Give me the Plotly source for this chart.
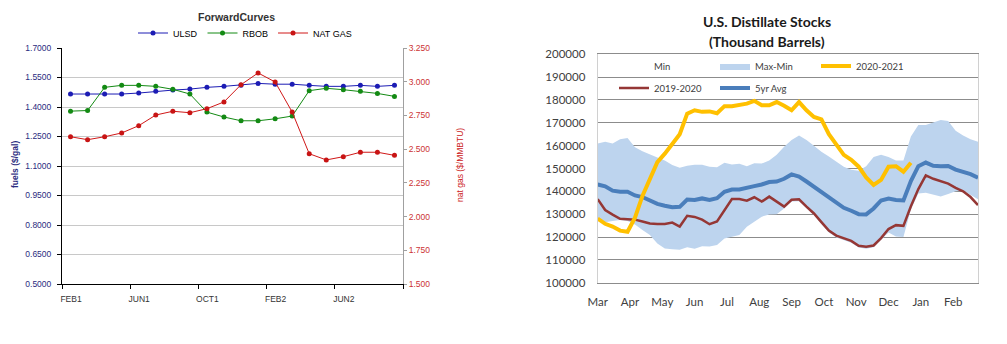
import plotly.graph_objects as go

W, H = 1007, 344

# ---------------- Forward curves (left panel) ----------------
curve_months = ["FEB1", "MAR1", "APR1", "MAY1", "JUN1", "JUL1", "AUG1", "SEP1", "OCT1", "NOV1",
                "DEC1", "JAN2", "FEB2", "MAR2", "APR2", "MAY2", "JUN2", "JUL2", "AUG2", "SEP2"]
ulsd = [1.466, 1.466, 1.466, 1.466, 1.471, 1.480, 1.486, 1.491, 1.500, 1.505,
        1.511, 1.520, 1.516, 1.516, 1.510, 1.505, 1.505, 1.510, 1.505, 1.510]
rbob = [1.379, 1.382, 1.500, 1.510, 1.510, 1.505, 1.490, 1.466, 1.374, 1.349,
        1.330, 1.330, 1.340, 1.354, 1.483, 1.495, 1.488, 1.480, 1.469, 1.454]
nat_gas = [2.592, 2.570, 2.592, 2.620, 2.674, 2.753, 2.781, 2.770, 2.800, 2.850,
           2.978, 3.065, 2.998, 2.775, 2.466, 2.420, 2.444, 2.477, 2.477, 2.454]
curve_tick_months = ["FEB1", "JUN1", "OCT1", "FEB2", "JUN2"]

# ---------------- Distillate stocks (right panel) ----------------
season_months = ["Mar", "Apr", "May", "Jun", "Jul", "Aug", "Sep", "Oct", "Nov", "Dec", "Jan", "Feb"]
stocks_2020_2021 = [128100, 125800, 124600, 122800, 122300, 128500, 138000, 145300, 152800, 156500,
                    160500, 165000, 174000, 175500, 174800, 175000, 174200, 177300, 177300, 178000,
                    178400, 179600, 177700, 177700, 179100, 177500, 175500, 179100, 175500, 172600,
                    171500, 165000, 160500, 156000, 153800, 150800, 146100, 142800, 145000, 150800,
                    151000, 148600, 152500]
stocks_2019_2020 = [136600, 131800, 129800, 128000, 127800, 127600, 126800, 125900, 125700, 125700,
                    126300, 124600, 129300, 128800, 127600, 125600, 126800, 132000, 136600, 136600,
                    135900, 137400, 135500, 137700, 135500, 133300, 136300, 136500, 133300, 130300,
                    126500, 122800, 120600, 119600, 118300, 116200, 115700, 116300, 119500, 123500,
                    125200, 124900, 133500, 141000, 147000, 145500, 144500, 143400, 141500, 140000,
                    137500, 134000]
avg_5yr = [143000, 142200, 140300, 139800, 139800, 138200, 137500, 136200, 134500, 133700,
           133000, 133200, 136400, 136200, 136900, 136200, 137000, 139800, 140800, 140800,
           141700, 142300, 143000, 144100, 144300, 145500, 147400, 146500, 144300, 142000,
           139500, 137000, 134800, 132800, 131500, 130000, 129900, 132500, 136000, 136800,
           136200, 136000, 144500, 151000, 152600, 151200, 151000, 151100, 149500, 148500,
           147500, 146000]
range_min = [127000, 126500, 127000, 127500, 127000, 125500, 123100, 120900, 117200, 115000,
             114700, 114400, 115500, 114900, 116000, 115800, 116500, 119400, 120100, 120900,
             124500, 126700, 128900, 129900, 130000, 132500, 135500, 135700, 132500, 129500,
             125700, 122000, 119800, 118800, 117500, 115400, 114900, 115500, 118700, 122000,
             120200, 120000, 132000, 139100, 139400, 138400, 137700, 138800, 140000, 140400,
             138400, 136500]
range_max = [160900, 161700, 161000, 162800, 163300, 159300, 157500, 156000, 154800, 153500,
             151500, 150300, 151200, 151600, 151600, 150800, 150600, 152500, 151800, 152100,
             151000, 152300, 152200, 153500, 156000, 159500, 162500, 164500, 162500, 160000,
             157300, 155300, 153000, 150800, 149500, 149000, 151000, 155000, 156000, 155000,
             153500, 153500, 164000, 169000, 169000, 170000, 171200, 170800, 166500, 164500,
             162800, 161700]

weeks = list(range(len(range_min)))
weeks_per_month = len(weeks) / 12.0
range_spread = [hi - lo for hi, lo in zip(range_max, range_min)]

LEFT_FONT = "Liberation Sans, Arial, sans-serif"
RIGHT_FONT = "Lato, Open Sans, sans-serif"

fig = go.Figure()

# left panel series
cx = list(range(len(curve_months)))
fig.add_trace(go.Scatter(x=cx, y=ulsd, name="ULSD", mode="lines+markers",
                         line=dict(color="#1c1cb4", width=1), marker=dict(size=5, color="#1c1cb4"),
                         xaxis="x", yaxis="y", legend="legend"))
fig.add_trace(go.Scatter(x=cx, y=rbob, name="RBOB", mode="lines+markers",
                         line=dict(color="#138a13", width=1), marker=dict(size=5, color="#138a13"),
                         xaxis="x", yaxis="y", legend="legend"))
fig.add_trace(go.Scatter(x=cx, y=nat_gas, name="NAT GAS", mode="lines+markers",
                         line=dict(color="#d01818", width=1), marker=dict(size=5, color="#c81414"),
                         xaxis="x", yaxis="y3", legend="legend"))

# right panel: stacked min / max-min band
fig.add_trace(go.Scatter(x=weeks, y=range_min, name="Min", mode="lines", stackgroup="band",
                         line=dict(width=0, color="rgba(0,0,0,0)"), fillcolor="rgba(0,0,0,0)",
                         xaxis="x2", yaxis="y2", legend="legend2"))
fig.add_trace(go.Scatter(x=weeks, y=range_spread, name="Max-Min", mode="lines", stackgroup="band",
                         line=dict(width=0, color="#bdd4ee"), fillcolor="#bdd4ee",
                         xaxis="x2", yaxis="y2", legend="legend2"))
fig.add_trace(go.Scatter(x=weeks[:len(stocks_2019_2020)], y=stocks_2019_2020, name="2019-2020",
                         mode="lines", line=dict(color="#953735", width=2.5),
                         xaxis="x2", yaxis="y2", legend="legend3"))
fig.add_trace(go.Scatter(x=weeks, y=avg_5yr, name="5yr Avg", mode="lines",
                         line=dict(color="#4a7ebb", width=4),
                         xaxis="x2", yaxis="y2", legend="legend3"))
fig.add_trace(go.Scatter(x=weeks[:len(stocks_2020_2021)], y=stocks_2020_2021, name="2020-2021",
                         mode="lines", line=dict(color="#ffc000", width=4),
                         xaxis="x2", yaxis="y2", legend="legend2"))

curve_tick_pos = [curve_months.index(m) - 0.5 for m in curve_tick_months] + [len(curve_months) - 0.5]


def note(text, x, y, size, color, family, angle=0):
    return dict(text=text, x=x / W, y=1 - y / H, xref="paper", yref="paper",
                xanchor="center", yanchor="middle", textangle=angle, showarrow=False,
                font=dict(family=family, size=size, color=color))


fig.update_layout(
    width=W, height=H, autosize=False,
    margin=dict(l=0, r=0, t=0, b=0, pad=0, autoexpand=False),
    paper_bgcolor="white", plot_bgcolor="white",
    xaxis=dict(domain=[62 / W, 403 / W], anchor="y", range=[-0.5, len(curve_months) - 0.5],
               tickmode="array", tickvals=curve_tick_pos, ticktext=curve_tick_months + [""],
               ticklabelshift=9, ticklabelstandoff=3, automargin=False,
               ticks="outside", ticklen=4, tickcolor="black",
               showline=True, linecolor="black", linewidth=1, showgrid=False, zeroline=False,
               tickfont=dict(family=LEFT_FONT, size=8.5, color="#333333")),
    yaxis=dict(domain=[1 - 284 / H, 1 - 48 / H], anchor="x", range=[0.5, 1.7], automargin=False,
               tick0=0.5, dtick=0.15, tickformat=".4f", ticks="outside", ticklen=4, tickcolor="black",
               ticklabelstandoff=4,
               showline=True, linecolor="black", linewidth=1, gridcolor="#c8c8c8", zeroline=False,
               tickfont=dict(family=LEFT_FONT, size=8.5, color="#2b2b80")),
    yaxis3=dict(overlaying="y", side="right", anchor="x", range=[1.5, 3.25], automargin=False,
                tick0=1.5, dtick=0.25, tickformat=".3f", showgrid=False, zeroline=False,
                showline=True, linecolor="#a0a0a0", ticks="outside", ticklen=3, tickcolor="#a0a0a0",
                tickfont=dict(family=LEFT_FONT, size=8.5, color="#cc3333")),
    xaxis2=dict(domain=[597.7 / W, 978 / W], anchor="y2", range=[0, len(weeks) - 1], automargin=False,
                tickmode="array", tickvals=[i * weeks_per_month for i in range(12)],
                ticktext=season_months, ticks="", showgrid=False, zeroline=False,
                showline=True, linecolor="#8c8c8c", mirror=True, ticklabelstandoff=8,
                tickfont=dict(family=RIGHT_FONT, size=11.5, color="#404040")),
    yaxis2=dict(domain=[1 - 282.7 / H, 1 - 54.3 / H], anchor="x2", range=[100000, 200000],
                automargin=False,
                tick0=100000, dtick=10000, tickformat="d", ticks="", gridcolor="#8c8c8c",
                zeroline=False, showline=True, linecolor="#d0d0d0", mirror=True, ticklabelstandoff=9,
                tickfont=dict(family=RIGHT_FONT, size=11.5, color="#404040")),
    legend=dict(orientation="h", x=133 / W, y=1 - 33 / H, xanchor="left", yanchor="middle",
                bgcolor="rgba(0,0,0,0)", itemwidth=30, traceorder="normal",
                font=dict(family=LEFT_FONT, size=9, color="black")),
    legend2=dict(orientation="h", x=614 / W, y=1 - 66 / H, xanchor="left", yanchor="middle",
                 bgcolor="rgba(0,0,0,0)", itemwidth=30, entrywidth=56, traceorder="normal",
                 font=dict(family=RIGHT_FONT, size=9.5, color="#404040")),
    legend3=dict(orientation="h", x=614 / W, y=1 - 88 / H, xanchor="left", yanchor="middle",
                 bgcolor="rgba(0,0,0,0)", itemwidth=30, entrywidth=56, traceorder="normal",
                 font=dict(family=RIGHT_FONT, size=9.5, color="#404040")),
    annotations=[
        note("<b>ForwardCurves</b>", 236, 17, 10.5, "#333333", LEFT_FONT),
        note("<b>fuels ($/gal)</b>", 15, 165, 8.5, "#2b2b80", LEFT_FONT, -90),
        note("nat gas ($/MMBTU)", 460, 165, 8.5, "#cc2222", LEFT_FONT, -90),
        note("<b>U.S. Distillate Stocks</b>", 767, 21.5, 14, "#1a1a1a", RIGHT_FONT),
        note("<b>(Thousand Barrels)</b>", 767, 41.5, 14, "#1a1a1a", RIGHT_FONT),
    ],
)

fig.write_html("out.html", config={"displayModeBar": False})
